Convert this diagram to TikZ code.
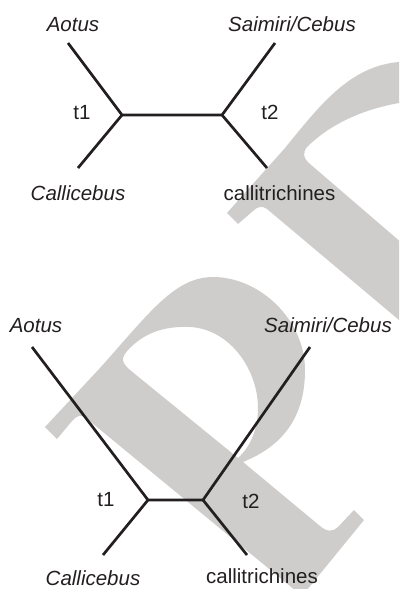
\documentclass[tikz,border=0pt]{standalone}
\usepackage{fontspec}
\setmainfont{Liberation Sans}
\definecolor{ink}{HTML}{231F20}
\definecolor{wmark}{HTML}{CFCCCC}
\begin{document}
\begin{tikzpicture}[x=1pt,y=-1pt,
  branch/.style={draw=ink,line width=2.7pt,line cap=butt,line join=miter},
  taxon/.style={anchor=base,inner sep=0pt,text=ink,font=\fontsize{20.5}{24}\selectfont\itshape},
  plain/.style={anchor=base,inner sep=0pt,text=ink,font=\fontsize{20.5}{24}\selectfont}]
\useasboundingbox (0,0) rectangle (399,589);

% light grey letter shapes in the background
\begin{scope}
  \clip (0,0) rectangle (399,589);
  \fill[wmark] (227,213) -- (285,148) .. controls (320,105) and (350,66) .. (399,62)
    -- (410,62) -- (410,101) -- (399,103)
    .. controls (360,110) and (330,125) .. (308,146)
    .. controls (302,152) and (303,158) .. (310,164)
    -- (410,250) -- (410,330) -- (399,320) -- (267,209)
    .. controls (262,205) and (257,207) .. (253,211) -- (238,224) -- cycle;
  \fill[wmark,even odd rule]
    (45,427) -- (100,368) .. controls (150,312) and (175,277) .. (213,277)
    .. controls (260,277) and (305,320) .. (305,370)
    .. controls (305,415) and (285,445) .. (243,462)
    -- (320,526) .. controls (327,532) and (333,532) .. (338,527)
    -- (354,510) -- (364,520) -- (302,596) -- (86,418)
    .. controls (81,414) and (76,416) .. (72,421) -- (57,439) -- cycle
    (238,458) -- (130,370) .. controls (121,362) and (121,358) .. (128,350)
    .. controls (145,332) and (165,326) .. (190,327)
    .. controls (230,329) and (258,370) .. (258,408)
    .. controls (258,430) and (250,447) .. (238,458) -- cycle;
\end{scope}

% upper tree
\coordinate (ua) at (68,43);
\coordinate (uc) at (78,168);
\coordinate (us) at (275,43);
\coordinate (um) at (267,168);
\coordinate (u1) at (122,115);
\coordinate (u2) at (222,115);
\draw[branch] (ua) -- (u1) -- (u2) -- (us);
\draw[branch] (uc) -- (u1);
\draw[branch] (um) -- (u2);
\node[taxon] (uaotus) at (73,31) {Aotus};
\node[taxon] (usaim) at (292,31) {Saimiri/Cebus};
\node[taxon] (ucall) at (78,200) {Callicebus};
\node[plain] (umarm) at (279.5,200) {callitrichines};
\node[plain] (ut1) at (82,119.5) {t1};
\node[plain] (ut2) at (270,119.5) {t2};

% lower tree
\coordinate (la) at (32,347);
\coordinate (lc) at (103,555);
\coordinate (ls) at (310,347);
\coordinate (lm) at (247,555);
\coordinate (l1) at (148,500);
\coordinate (l2) at (203,500);
\draw[branch] (la) -- (l1) -- (l2) -- (ls);
\draw[branch] (lc) -- (l1);
\draw[branch] (lm) -- (l2);
\node[taxon] (laotus) at (36,332) {Aotus};
\node[taxon] (lsaim) at (328,332) {Saimiri/Cebus};
\node[taxon] (lcall) at (93,585) {Callicebus};
\node[plain] (lmarm) at (262,583) {callitrichines};
\node[plain] (lt1) at (106,506) {t1};
\node[plain] (lt2) at (251,508) {t2};
\end{tikzpicture}
\end{document}
